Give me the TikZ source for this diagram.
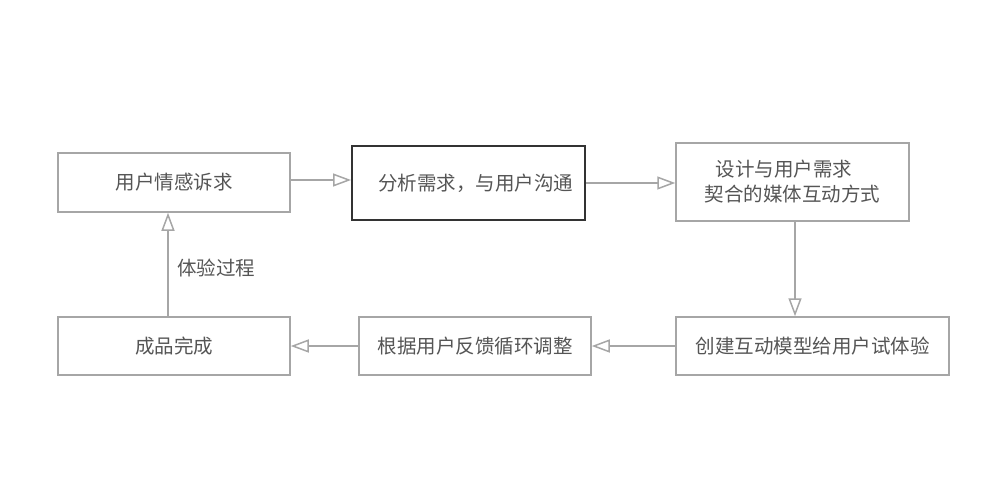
\documentclass[tikz,border=0pt]{standalone}
\usepackage{fontspec}
\newfontfamily\cjk{Noto Sans CJK SC}
\usetikzlibrary{arrows.meta}
\definecolor{linegray}{HTML}{A6A6A6}
\definecolor{txtgray}{HTML}{555555}
\begin{document}
\begin{tikzpicture}[x=1pt,y=-1pt,
  box/.style={draw=linegray, line width=1.5pt, fill=white, font=\cjk\fontsize{19.5}{25}\selectfont, text=txtgray, align=center, inner sep=0pt},
  hbox/.style={draw=black!80, line width=2pt, fill=white, font=\cjk\fontsize{19.5}{25}\selectfont, text=txtgray, align=center, inner sep=0pt},
  conn/.style={draw=linegray, line width=1.5pt, -{Triangle[open, length=18pt, width=13pt]}},
  lbl/.style={font=\cjk\fontsize{19.5}{25}\selectfont, text=txtgray}
]
\useasboundingbox (0,0) rectangle (1000,500);
\node[box, minimum width=232pt, minimum height=59pt] (a) at (174,182.5) {用户情感诉求};
\node[hbox, minimum width=233pt, minimum height=74pt] (b) at (468.5,183) {\hspace*{14pt}分析需求，与用户沟通};
\node[box, minimum width=233pt, minimum height=78pt] (c) at (792.5,182) {设计与用户需求\hspace*{17pt}\\契合的媒体互动方式};
\node[box, minimum width=273pt, minimum height=58pt] (d) at (812.5,346) {创建互动模型给用户试体验};
\node[box, minimum width=232pt, minimum height=58pt] (e) at (475,346) {根据用户反馈循环调整};
\node[box, minimum width=232pt, minimum height=58pt] (f) at (174,346) {成品完成};
\draw[conn] (a.east |- 0,180) -- (b.west |- 0,180);
\draw[conn] (b.east |- 0,183) -- (c.west |- 0,183);
\draw[conn] (c.south -| 795,0) -- (d.north -| 795,0);
\draw[conn] (d.west) -- (e.east);
\draw[conn] (e.west) -- (f.east);
\draw[conn] (f.north -| 168,0) -- (a.south -| 168,0) node[pos=0.47, right=5pt, lbl] {体验过程};
\end{tikzpicture}
\end{document}
